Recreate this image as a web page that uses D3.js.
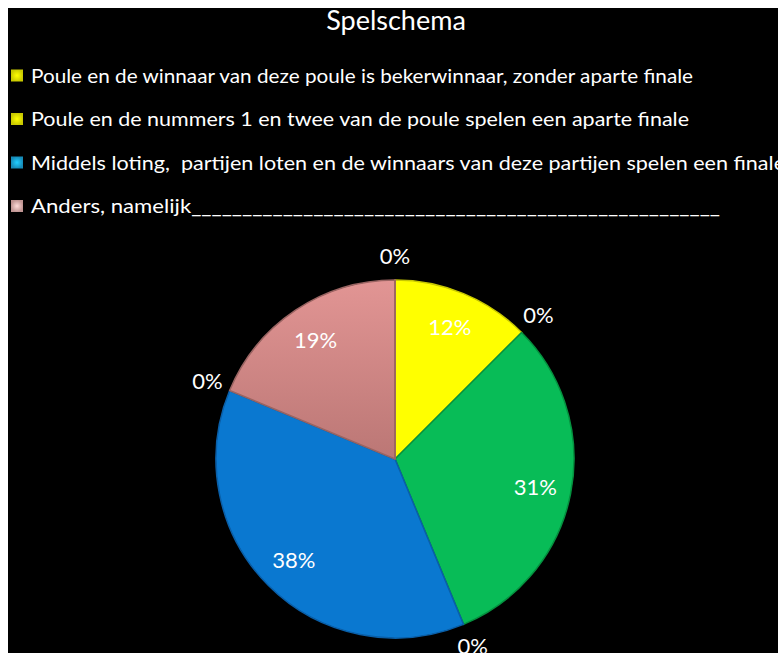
<!DOCTYPE html>
<html>
<head>
<meta charset="utf-8">
<script src="https://cdn.jsdelivr.net/npm/d3@7"></script>
<style>
  body { margin: 0; background: #fff; }
  svg { display: block; }
</style>
</head>
<body>
<div id="grafiek"></div>
<script>
// Gegevens van de grafiek
const titel = "Spelschema";
const legendaTeksten = [
    "Poule en de winnaar van deze poule is bekerwinnaar, zonder aparte finale",
    "Poule en de nummers 1 en twee van de poule spelen een aparte finale",
    "Middels loting,  partijen loten en de winnaars van deze partijen spelen een finale",
    "Anders, namelijk____________________________________________________"
];
const legendaKleuren = ["#f0f000", "#f0f000", "#1aa6dc", "#e6b2b0"];
const legendaBreedtes = [662, 658, 754, 689];

// taartpunten, met de klok mee vanaf boven
const waarden = [12.5, 0, 31.25, 0, 37.5, 0, 18.75, 0];
const labels = ["12%", "0%", "31%", "0%", "38%", "0%", "19%", "0%"];
const kleuren = ["#ffff00", "#ffff00", "#08bc57", "#08bc57", "#0a78d0", "#0a78d0", "url(#roze)", "#d08886"];
const randKleuren = ["#c8c800", "#c8c800", "#05913f", "#05913f", "#0a5fa8", "#0a5fa8", "#9a6462", "#9a6462"];

const width = 778;
const height = 653;

const svg = d3.select("#grafiek")
    .append("svg")
    .attr("width", width)
    .attr("height", height);

const defs = svg.append("defs");
const roze = defs.append("linearGradient")
    .attr("id", "roze")
    .attr("x1", 0).attr("y1", 0).attr("x2", 0).attr("y2", 1);
roze.append("stop").attr("offset", "0%").attr("stop-color", "#e29594");
roze.append("stop").attr("offset", "100%").attr("stop-color", "#bb7775");

// markering voor legenda
legendaKleuren.forEach((k, i) => {
    const g = defs.append("radialGradient").attr("id", "mark" + i);
    g.append("stop").attr("offset", "0%").attr("stop-color", d3.color(k).brighter(0.6));
    g.append("stop").attr("offset", "100%").attr("stop-color", d3.color(k).darker(0.5));
});

// zwarte achtergrond met witte rand links en boven
svg.append("rect")
    .attr("x", 8).attr("y", 8)
    .attr("width", width - 8).attr("height", height - 8)
    .attr("fill", "#000");

svg.append("text")
    .attr("x", 396)
    .attr("y", 30)
    .attr("text-anchor", "middle")
    .attr("fill", "#fff")
    .style("font-family", "Lato, 'Open Sans', sans-serif")
    .style("font-size", "27px")
    .text(titel);

// Legenda
const yLegenda = d3.scalePoint()
    .domain(d3.range(legendaTeksten.length))
    .range([82.5, 213]);

const legenda = svg.append("g")
    .selectAll("g")
    .data(legendaTeksten)
    .enter()
    .append("g")
    .attr("transform", (d, i) => `translate(0,${yLegenda(i)})`);

legenda.append("rect")
    .attr("x", 11)
    .attr("y", -13)
    .attr("width", 12)
    .attr("height", 12)
    .attr("fill", (d, i) => `url(#mark${i})`);

legenda.append("text")
    .attr("x", 31)
    .attr("y", 0)
    .attr("fill", "#fff")
    .attr("textLength", (d, i) => legendaBreedtes[i])
    .attr("lengthAdjust", "spacingAndGlyphs")
    .style("white-space", "pre")
    .style("font-family", "Lato, 'Open Sans', sans-serif")
    .style("font-size", "19px")
    .text(d => d);

// Taart
const cx = 395, cy = 459, r = 179;

const pie = d3.pie().sort(null).value(d => d);
const arc = d3.arc().innerRadius(0).outerRadius(r);
const labelArc = d3.arc().innerRadius(143).outerRadius(143);
const buitenArc = d3.arc().innerRadius(203).outerRadius(203);

const taart = svg.append("g")
    .attr("transform", `translate(${cx},${cy})`);

const punten = pie(waarden);

taart.selectAll("path")
    .data(punten)
    .enter()
    .append("path")
    .attr("d", arc)
    .attr("fill", (d, i) => kleuren[i])
    .attr("stroke", (d, i) => randKleuren[i])
    .attr("stroke-width", 1.5)
    .attr("stroke-linejoin", "round");

taart.selectAll(".label")
    .data(punten)
    .enter()
    .append("text")
    .attr("class", "label")
    .attr("transform", d => {
        const p = d.value > 0 ? labelArc.centroid(d) : buitenArc.centroid(d);
        return `translate(${p[0]},${p[1]})`;
    })
    .attr("text-anchor", "middle")
    .attr("dy", "0.36em")
    .attr("fill", "#fff")
    .style("font-family", "Lato, 'Open Sans', sans-serif")
    .style("font-size", "22px")
    .text((d, i) => labels[i]);
</script>
</body>
</html>
